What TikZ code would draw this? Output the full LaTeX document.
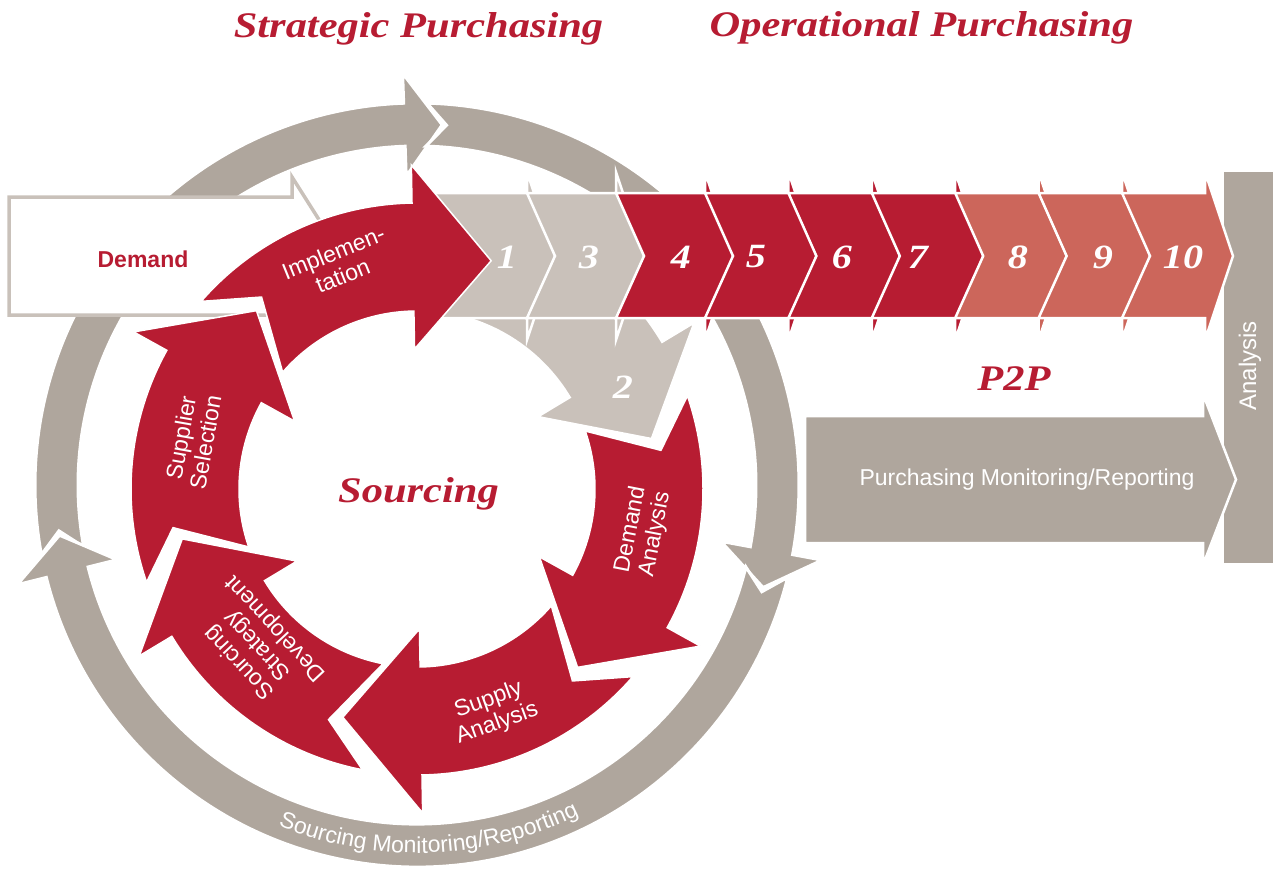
\documentclass[tikz,border=0pt]{standalone}
\usepackage{fontspec}
\setmainfont{Liberation Serif}
\setsansfont{Liberation Sans}
\usetikzlibrary{calc,decorations.text}
\definecolor{pwred}{RGB}{183,28,50}
\definecolor{ltgray}{RGB}{201,193,186}
\definecolor{dkgray}{RGB}{175,166,157}
\definecolor{salmon}{RGB}{204,102,91}
\newcommand\wide[1]{\scalebox{1.18}[1]{#1}}
\newcommand\ringfont{\sffamily\fontsize{23}{26}\selectfont}
% ring arrow: style, tail angle, head base angle (uses \rcen,\rin,\rout,\hd,\nt,\bb,\tipr,\notr)
\newcommand\ringarrow[3]{%
  \pgfmathsetmacro\ra{\rout+\bb}%
  \pgfmathsetmacro\rb{\rin-\bb}%
  \pgfmathsetmacro\tipA{#3+\hd}%
  \pgfmathsetmacro\notA{#2+\nt}%
  \path[#1] ($(\rcen)+(#2:\rout)$) arc[start angle=#2,end angle=#3,radius=\rout]
    -- ($(\rcen)+(#3:\ra)$) -- ($(\rcen)+(\tipA:\tipr)$) -- ($(\rcen)+(#3:\rb)$)
    -- ($(\rcen)+(#3:\rin)$) arc[start angle=#3,end angle=#2,radius=\rin]
    -- ($(\rcen)+(\notA:\notr)$) -- cycle;}
% chevron: style, left x, head base x
\newcommand\chev[3]{%
  \path[#1] (#2,193) -- (#3,193) -- (#3,172) -- ({#3+28},256) -- (#3,340) -- (#3,318)
    -- (#2,318) -- ({#2+28},256) -- cycle;}
\tikzset{
  ringgray/.style={fill=dkgray, draw=white, line width=3pt},
  ltarrow/.style={fill=ltgray, draw=white, line width=2.5pt},
  redarrow/.style={fill=pwred, draw=white, line width=1.5pt},
  chevgray/.style={fill=ltgray, draw=white, line width=2.5pt},
  chevred/.style={fill=pwred, draw=white, line width=2.5pt},
  chevsal/.style={fill=salmon, draw=white, line width=2.5pt},
  purch/.style={fill=dkgray, draw=white, line width=2.5pt},
  demandbox/.style={fill=white, draw=ltgray, line width=3.5pt},
  ttl/.style={text=pwred, font=\fontsize{36}{40}\selectfont\bfseries\itshape, inner sep=0pt},
  num/.style={text=white, font=\fontsize{34}{36}\selectfont\bfseries\itshape, inner sep=0pt},
  lbl/.style={text=white, font=\sffamily\fontsize{23}{25}\selectfont, align=center, inner sep=0pt},
}
\begin{document}
\begin{tikzpicture}[x=1pt,y=-1pt,line join=miter]
\useasboundingbox (0,0) rectangle (1283,870);
\coordinate (R) at (417,489);
\coordinate (G) at (417,485);
% outer gray ring
\def\rcen{G}\def\rin{339}\def\rout{382}\def\hd{6}\def\nt{3.2}\def\bb{30}\def\tipr{361}\def\notr{361}
\ringarrow{ringgray}{169.5}{268}
\ringarrow{ringgray}{271.5}{370.5}
\ringarrow{ringgray}{14}{166}
\path[decorate, decoration={text along path, text align=center, text color=white,
  text={|\ringfont|Sourcing Monitoring/Reporting}}]
  (G) ++(140:368) arc[start angle=140, end angle=36, radius=368];
% demand box
\path[demandbox] (9,197) -- (292,197) -- (292,177) -- (342,256) -- (292,335) -- (292,315) -- (9,315) -- cycle;
% analysis bar
\fill[dkgray] (1224,172) rectangle (1273,563);
% light gray arrow 2
\def\rcen{R}\def\rin{178}\def\rout{286}\def\hd{19}\def\nt{10}\def\bb{38}\def\tipr{240}\def\notr{247}
\ringarrow{ltarrow}{-79}{-31}
% chevron strip
\path[chevgray] (415,193) -- (527,193) -- (527,172) -- (555,256) -- (527,340) -- (527,318) -- (415,318) -- cycle;
\chev{chevgray}{527}{616}
\chev{chevred}{616}{705}
\chev{chevred}{705}{788.4}
\chev{chevred}{788.4}{871.8}
\chev{chevred}{871.8}{955.2}
\chev{chevsal}{955.2}{1038.6}
\chev{chevsal}{1038.6}{1122}
\chev{chevsal}{1122}{1205}
% purchasing monitoring arrow
\path[purch] (805,416) -- (1203,416) -- (1203,394) -- (1236,479.5) -- (1203,565) -- (1203,543) -- (805,543) -- cycle;
% red sourcing arrows
\ringarrow{redarrow}{-139}{-91}
\ringarrow{redarrow}{-19}{29}
\ringarrow{redarrow}{41}{89}
\ringarrow{redarrow}{101}{149}
\ringarrow{redarrow}{161}{209}
% titles
\node[ttl, anchor=base] (t1) at (418.5,37) {\wide{Strategic Purchasing}};
\node[ttl, anchor=base] (t2) at (921.5,36) {\wide{Operational Purchasing}};
\node[ttl, anchor=base] (src) at (418.5,502) {\wide{Sourcing}};
\node[ttl, anchor=base] (p2p) at (1014,390) {\wide{P2P}};
% numbers
\node[num] (n1) at (507,257) {\wide{1}};
\node[num] (n3) at (589,257) {\wide{3}};
\node[num] (n2) at (623,387) {\wide{2}};
\node[num] (n4) at (681,257) {\wide{4}};
\node[num] (n5) at (756,257) {\wide{5}};
\node[num] (n6) at (842,257) {\wide{6}};
\node[num] (n7) at (918,257) {\wide{7}};
\node[num] (n8) at (1018,257) {\wide{8}};
\node[num] (n9) at (1103,257) {\wide{9}};
\node[num] (n10) at (1183,257) {\wide{10}};
% labels
\node[text=pwred, font=\sffamily\bfseries\fontsize{23}{25}\selectfont, anchor=base, inner sep=0pt] (dem) at (143,267) {Demand};
\node[lbl, rotate=22] (impl) at (338,264) {Implemen-\\tation};
\node[lbl, rotate=80] (supsel) at (193,440) {Supplier\\Selection};
\node[lbl, rotate=79] (deman) at (643,532) {Demand\\Analysis};
\node[lbl, rotate=20] (supan) at (493,712) {Supply\\Analysis};
\node[lbl, rotate=133] (ssd) at (258,645) {Sourcing\\Strategy\\Development};
\node[lbl, rotate=90, font=\sffamily\fontsize{24}{26}\selectfont] (ana) at (1250,366) {Analysis};
\node[lbl] (pmr) at (1027,480) {Purchasing Monitoring/Reporting};
\end{tikzpicture}
\end{document}
